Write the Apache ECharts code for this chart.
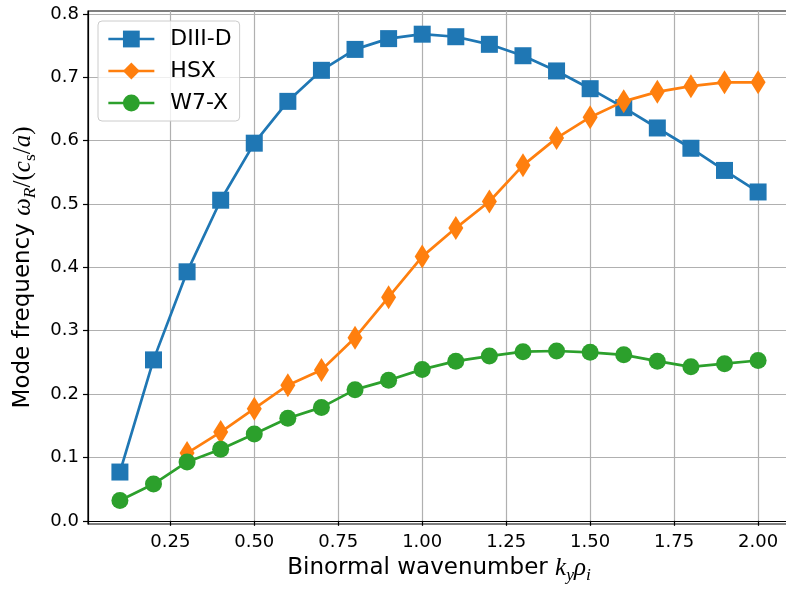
<!DOCTYPE html>
<html>
<head>
<meta charset="utf-8">
<script src="https://cdn.jsdelivr.net/npm/echarts@6/dist/echarts.min.js"></script>
<style>
html,body{margin:0;padding:0;background:#fff;}
#chart{width:786px;height:592px;}
</style>
</head>
<body>
<div id="chart"></div>
<script>
// Data
const kyValues = [0.1, 0.2, 0.3, 0.4, 0.5, 0.6, 0.7, 0.8, 0.9, 1.0, 1.1, 1.2, 1.3, 1.4, 1.5, 1.6, 1.7, 1.8, 1.9, 2.0];
const diiidValues = [0.077, 0.254, 0.393, 0.506, 0.596, 0.662, 0.711, 0.744, 0.761, 0.768, 0.764, 0.752, 0.734, 0.710, 0.682, 0.652, 0.620, 0.588, 0.553, 0.519];
const hsxKy = [0.3, 0.4, 0.5, 0.6, 0.7, 0.8, 0.9, 1.0, 1.1, 1.2, 1.3, 1.4, 1.5, 1.6, 1.7, 1.8, 1.9, 2.0];
const hsxValues = [0.107, 0.140, 0.177, 0.214, 0.238, 0.289, 0.353, 0.417, 0.462, 0.504, 0.561, 0.604, 0.637, 0.662, 0.677, 0.686, 0.692, 0.692];
const w7xValues = [0.032, 0.058, 0.093, 0.113, 0.137, 0.162, 0.179, 0.207, 0.222, 0.239, 0.252, 0.260, 0.267, 0.268, 0.266, 0.262, 0.252, 0.243, 0.248, 0.253];
const seriesNames = ['DIII-D', 'HSX', 'W7-X'];
const xTicks = [0.25, 0.50, 0.75, 1.00, 1.25, 1.50, 1.75, 2.00];
const yTicks = [0.0, 0.1, 0.2, 0.3, 0.4, 0.5, 0.6, 0.7, 0.8];

const colors = ['#1f77b4', '#ff7f0e', '#2ca02c'];
const pairs = (xs, ys) => xs.map((x, i) => [x, ys[i]]);

const chart = echarts.init(document.getElementById('chart'), null, {renderer: 'canvas'});
const labelFont = 'DejaVu Sans';
const mathFont = 'Liberation Serif';

const rich = {
  t: {fontFamily: labelFont, fontSize: 23, color: '#000', lineHeight: 32, verticalAlign: 'middle'},
  m: {fontFamily: mathFont, fontStyle: 'italic', fontSize: 25, color: '#000', lineHeight: 32, verticalAlign: 'middle'},
  r: {fontFamily: mathFont, fontSize: 25, color: '#000', lineHeight: 32, verticalAlign: 'middle'},
  s: {fontFamily: mathFont, fontStyle: 'italic', fontSize: 17.5, color: '#000', lineHeight: 32, verticalAlign: 'bottom'},
  su: {fontFamily: mathFont, fontSize: 17.5, color: '#000', lineHeight: 32, verticalAlign: 'bottom'}
};

const option = {
  animation: false,
  backgroundColor: '#fff',
  grid: {left: 88, width: 702, top: 11, bottom: 68, outerBoundsMode: 'none', containLabel: false,
    show: true, borderColor: '#000', borderWidth: 1.2, backgroundColor: 'transparent'},
  legend: {
    data: seriesNames,
    orient: 'vertical',
    left: 98, top: 21,
    padding: [5, 8, 5, 9],
    itemGap: 6,
    itemWidth: 46, itemHeight: 21,
    backgroundColor: 'rgba(255,255,255,0.8)',
    borderColor: '#cccccc', borderWidth: 1, borderRadius: 4,
    lineStyle: {width: 2.7},
    textStyle: {fontFamily: labelFont, fontSize: 22, color: '#000', lineHeight: 26, padding: [0, 0, 0, 11]}
  },
  xAxis: {
    type: 'value', min: 0.005, max: 2.095,
    name: '{t|Binormal wavenumber }{m|k}{s|y}{m|ρ}{s|i}',
    nameLocation: 'middle', nameGap: 27,
    nameTextStyle: {rich: rich},
    axisLine: {show: true, lineStyle: {color: '#000', width: 1.2}},
    axisTick: {show: true, length: 5, lineStyle: {color: '#000', width: 1.2}, customValues: xTicks},
    axisLabel: {customValues: xTicks, margin: 9, fontFamily: labelFont, fontSize: 18, color: '#000',
      formatter: v => v.toFixed(2)},
    splitLine: {show: true, lineStyle: {color: '#b0b0b0', width: 1.2}}
  },
  yAxis: {
    type: 'value', min: -0.005, max: 0.8046,
    name: '{t|Mode frequency }{m|ω}{s|R}{r|/(}{m|c}{su|s}{r|/}{m|a}{r|)}',
    nameLocation: 'middle', nameGap: 42, nameRotate: 90,
    nameTextStyle: {rich: rich},
    axisLine: {show: true, lineStyle: {color: '#000', width: 1.2}},
    axisTick: {show: true, length: 5, lineStyle: {color: '#000', width: 1.2}, customValues: yTicks},
    axisLabel: {customValues: yTicks, margin: 9, fontFamily: labelFont, fontSize: 18, color: '#000',
      formatter: v => v.toFixed(1)},
    splitLine: {show: true, lineStyle: {color: '#b0b0b0', width: 1.2}}
  },
  series: [
    {name: seriesNames[0], type: 'line', z: 2, data: pairs(kyValues, diiidValues), symbol: 'rect', symbolSize: 17,
      showAllSymbol: true, color: colors[0], lineStyle: {width: 2.7, color: colors[0]}, itemStyle: {color: colors[0]}},
    {name: seriesNames[1], type: 'line', z: 3, data: pairs(hsxKy, hsxValues), symbol: 'diamond', symbolSize: [15, 24],
      showAllSymbol: true, color: colors[1], lineStyle: {width: 2.7, color: colors[1]}, itemStyle: {color: colors[1]}},
    {name: seriesNames[2], type: 'line', z: 4, data: pairs(kyValues, w7xValues), symbol: 'circle', symbolSize: 17,
      showAllSymbol: true, color: colors[2], lineStyle: {width: 2.7, color: colors[2]}, itemStyle: {color: colors[2]}}
  ]
};
chart.setOption(option);
</script>
</body>
</html>
